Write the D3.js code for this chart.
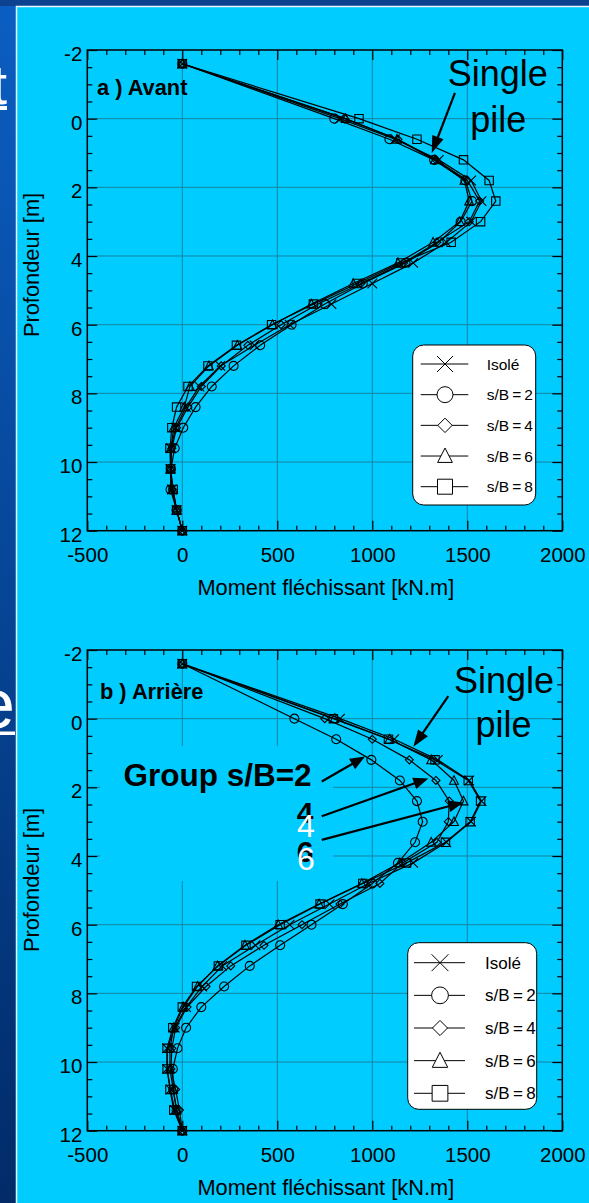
<!DOCTYPE html>
<html>
<head>
<meta charset="utf-8">
<script src="https://cdn.jsdelivr.net/npm/d3@7"></script>
<style>
  html, body { margin: 0; padding: 0; overflow: hidden; background: #0a4ea8; }
  text { font-family: "Liberation Sans", Arial, Helvetica, sans-serif; }
</style>
</head>
<body>
<svg id="fig" width="589" height="1203"></svg>
<script>
// Depth of each computed point along the pile [m]
const depths = [-1.6, 0, 0.6, 1.2, 1.8, 2.4, 3.0, 3.6, 4.2, 4.8, 5.4, 6.0, 6.6, 7.2, 7.8, 8.4, 9.0, 9.6, 10.2, 10.8, 11.4, 12.0];

// a) Avant – bending moment [kN.m]
const avantIsole = [0, 830, 1120, 1350, 1520, 1575, 1520, 1390, 1215, 1000, 785, 565, 380, 200, 90, 20, -35, -60, -62, -55, -30, 0];
const avantSB2   = [0, 800, 1090, 1325, 1490, 1525, 1465, 1350, 1175, 950, 750, 575, 410, 270, 155, 70, 5, -40, -60, -62, -30, 0];
const avantSB4   = [0, 855, 1135, 1335, 1500, 1565, 1510, 1340, 1165, 940, 715, 520, 345, 205, 100, 30, -30, -55, -62, -52, -30, 0];
const avantSB6   = [0, 860, 1130, 1330, 1485, 1510, 1460, 1320, 1135, 900, 680, 475, 290, 140, 40, 10, -45, -60, -62, -50, -30, 0];
const avantSB8   = [0, 930, 1235, 1480, 1615, 1650, 1570, 1415, 1150, 920, 690, 470, 285, 135, 30, -30, -55, -65, -62, -48, -30, 0];

// b) Arrière – bending moment [kN.m]
const arriereIsole = [0, 830, 1115, 1345, 1510, 1575, 1520, 1390, 1215, 980, 775, 565, 385, 210, 105, 20, -40, -80, -80, -62, -40, 0];
const arriereSB2   = [0, 590, 810, 995, 1145, 1235, 1265, 1225, 1135, 1000, 845, 680, 515, 355, 220, 100, 20, -25, -50, -48, -30, 0];
const arriereSB4   = [0, 750, 1000, 1195, 1335, 1405, 1400, 1340, 1160, 1040, 830, 630, 430, 255, 125, 25, -35, -55, -60, -35, -15, 0];
const arriereSB6   = [0, 800, 1090, 1310, 1430, 1480, 1430, 1310, 1145, 945, 720, 505, 330, 185, 80, 5, -45, -65, -65, -48, -30, 0];
const arriereSB8   = [0, 795, 1085, 1330, 1505, 1570, 1515, 1385, 1180, 950, 725, 515, 335, 190, 75, 0, -50, -80, -80, -65, -45, 0];

// Axis ticks
const xTicks = [-500, 0, 500, 1000, 1500, 2000];
const yTicks = [-2, 0, 2, 4, 6, 8, 10, 12];
const xMinor = d3.range(-500, 2001, 100).filter(v => v % 500 !== 0);
const yMinor = d3.range(-2, 12.01, 0.5).filter(v => Math.abs(v % 2) > 1e-9);

// Legend
const seriesNames  = ["Isolé", "s/B\u2009=\u20092", "s/B\u2009=\u20094", "s/B\u2009=\u20096", "s/B\u2009=\u20098"];
const seriesShapes = ["times", "circle", "diamond", "triangle", "square"];

const xTitle = "Moment fléchissant [kN.m]";
const yTitle = "Profondeur [m]";

const W = 589, H = 1203;
const svg = d3.select("#fig");

// ---- slide background ----
const defs = svg.append("defs");
const grad = defs.append("linearGradient").attr("id", "slideBg")
  .attr("x1", 0).attr("y1", 0).attr("x2", 0).attr("y2", 1);
grad.append("stop").attr("offset", "0%").attr("stop-color", "#0b5ec2");
grad.append("stop").attr("offset", "100%").attr("stop-color", "#022b68");
svg.append("rect").attr("width", W).attr("height", H).attr("fill", "url(#slideBg)");
svg.append("rect").attr("width", W).attr("height", 6).attr("fill", "#0c4290");

// slide title letters peeking out at the left edge
svg.append("text").attr("x", 7).attr("y", 104).attr("text-anchor", "end")
  .attr("font-size", 56).attr("fill", "#fff").text("t");
svg.append("rect").attr("x", 0).attr("y", 106).attr("width", 7).attr("height", 4).attr("fill", "#fff");
svg.append("text").attr("x", 15).attr("y", 728).attr("text-anchor", "end")
  .attr("font-size", 70).attr("fill", "#fff").text("e");
svg.append("rect").attr("x", 0).attr("y", 731.5).attr("width", 15).attr("height", 3.5).attr("fill", "#fff");

// cyan figure panel
svg.append("rect").attr("x", 16).attr("y", 6).attr("width", W - 16).attr("height", H - 6).attr("fill", "#00ccff");
svg.append("path").attr("d", `M16.5,${H}V6.5H${W}`).attr("fill", "none")
  .attr("stroke", "#e6f7ff").attr("stroke-width", 1.5);

// ---- marker shapes ----
function markerPath(shape, s) {
  switch (shape) {
    case "times":    return `M${-s},${-s}L${s},${s}M${-s},${s}L${s},${-s}`;
    case "circle":   return `M${s},0A${s},${s} 0 1 1 ${-s},0A${s},${s} 0 1 1 ${s},0Z`;
    case "diamond":  return `M0,${-s}L${s},0L0,${s}L${-s},0Z`;
    case "triangle": return `M0,${-s}L${s * 0.92},${s * 0.8}L${-s * 0.92},${s * 0.8}Z`;
    case "square":   return `M${-s},${-s}H${s}V${s}H${-s}Z`;
  }
}
const plotMarkerSize   = { times: 4.8, circle: 4.5, diamond: 4, triangle: 4.8, square: 4.2 };
const legendMarkerSize = { times: 8, circle: 8, diamond: 7.2, triangle: 8, square: 7.5 };

function arrow(g, x0, y0, x1, y1, headLen = 17, headW = 12) {
  const dx = x1 - x0, dy = y1 - y0, L = Math.hypot(dx, dy), ux = dx / L, uy = dy / L;
  const bx = x1 - ux * headLen, by = y1 - uy * headLen;
  g.append("line").attr("x1", x0).attr("y1", y0).attr("x2", bx + ux * 2).attr("y2", by + uy * 2)
    .attr("stroke", "#000").attr("stroke-width", 2.2);
  g.append("path")
    .attr("d", `M${x1},${y1}L${bx - uy * headW / 2},${by + ux * headW / 2}L${bx + uy * headW / 2},${by - ux * headW / 2}Z`)
    .attr("fill", "#000");
}

const fmtTick = d => String(d);

function drawPanel(cfg) {
  const x = d3.scaleLinear().domain([-500, 2000]).range([87.3, 562.3]);
  const y = d3.scaleLinear().domain([-2, 12]).range([cfg.top, cfg.top + 480.7]);
  const g = svg.append("g");
  const gridColor = "#1683a3";

  // gridlines
  g.append("g").selectAll("line").data(xTicks.slice(1, -1)).join("line")
    .attr("x1", d => x(d)).attr("x2", d => x(d)).attr("y1", y(-2)).attr("y2", y(12))
    .attr("stroke", gridColor).attr("stroke-width", 1);
  g.append("g").selectAll("line").data(yTicks.slice(1, -1)).join("line")
    .attr("x1", x(-500)).attr("x2", x(2000)).attr("y1", d => y(d)).attr("y2", d => y(d))
    .attr("stroke", gridColor).attr("stroke-width", 1);

  // text box that hides the grid behind the group labels
  if (cfg.cover) {
    const c = cfg.cover;
    g.append("rect").attr("x", x(c.m0)).attr("y", y(c.z0))
      .attr("width", x(c.m1) - x(c.m0)).attr("height", y(c.z1) - y(c.z0)).attr("fill", "#00ccff");
  }

  // axes (ticks point inward)
  const styleAxis = sel => {
    sel.select(".domain").remove();
    sel.selectAll(".tick line").attr("stroke", "#000").attr("stroke-width", 1.2);
    sel.selectAll("text").attr("font-size", 20.5).attr("fill", "#000")
      .style("font-family", '"Liberation Sans", Arial, sans-serif');
  };
  g.append("g").attr("transform", `translate(0,${y(12)})`)
    .call(d3.axisBottom(x).tickValues(xTicks).tickFormat(fmtTick).tickSizeInner(-10).tickSizeOuter(0).tickPadding(16.5))
    .call(styleAxis);
  g.append("g").attr("transform", `translate(0,${y(12)})`)
    .call(d3.axisBottom(x).tickValues(xMinor).tickFormat("").tickSizeInner(-5).tickSizeOuter(0)).call(styleAxis);
  g.append("g").attr("transform", `translate(0,${y(-2)})`)
    .call(d3.axisTop(x).tickValues(xTicks).tickFormat("").tickSizeInner(-10).tickSizeOuter(0)).call(styleAxis);
  g.append("g").attr("transform", `translate(0,${y(-2)})`)
    .call(d3.axisTop(x).tickValues(xMinor).tickFormat("").tickSizeInner(-5).tickSizeOuter(0)).call(styleAxis);
  const left = g.append("g").attr("transform", `translate(${x(-500)},0)`)
    .call(d3.axisLeft(y).tickValues(yTicks).tickFormat(fmtTick).tickSizeInner(-10).tickSizeOuter(0).tickPadding(5))
    .call(styleAxis);
  left.selectAll("text").attr("dy", "10.5");
  g.append("g").attr("transform", `translate(${x(-500)},0)`)
    .call(d3.axisLeft(y).tickValues(yMinor).tickFormat("").tickSizeInner(-5).tickSizeOuter(0)).call(styleAxis);
  g.append("g").attr("transform", `translate(${x(2000)},0)`)
    .call(d3.axisRight(y).tickValues(yTicks).tickFormat("").tickSizeInner(-10).tickSizeOuter(0)).call(styleAxis);
  g.append("g").attr("transform", `translate(${x(2000)},0)`)
    .call(d3.axisRight(y).tickValues(yMinor).tickFormat("").tickSizeInner(-5).tickSizeOuter(0)).call(styleAxis);

  // frame
  g.append("rect").attr("x", x(-500)).attr("y", y(-2))
    .attr("width", x(2000) - x(-500)).attr("height", y(12) - y(-2))
    .attr("fill", "none").attr("stroke", "#000").attr("stroke-width", 1.5);

  // axis titles
  g.append("text").attr("x", (x(-500) + x(2000)) / 2 + 1).attr("y", y(12) + 64)
    .attr("text-anchor", "middle").attr("font-size", 21.8).attr("fill", "#000").text(xTitle);
  g.append("text").attr("transform", `translate(39,${cfg.yTitleCenter}) rotate(-90)`)
    .attr("text-anchor", "middle").attr("font-size", 21.8).attr("fill", "#000").text(yTitle);

  // panel label
  g.append("text").attr("x", cfg.labelPos[0]).attr("y", cfg.labelPos[1])
    .attr("font-size", 21.8).attr("font-weight", "bold").attr("fill", "#000").text(cfg.label);

  // series: polyline + markers
  const line = d3.line().x(d => x(d.m)).y(d => y(d.z));
  cfg.series.forEach((vals, i) => {
    const pts = vals.map((m, k) => ({ m, z: depths[k] }));
    const shape = seriesShapes[i];
    g.append("path").datum(pts).attr("d", line)
      .attr("fill", "none").attr("stroke", "#000").attr("stroke-width", 1.2);
    g.append("g").selectAll("path").data(pts).join("path")
      .attr("transform", d => `translate(${x(d.m)},${y(d.z)})`)
      .attr("d", markerPath(shape, plotMarkerSize[shape]))
      .attr("fill", "none").attr("stroke", "#000").attr("stroke-width", 1.1);
  });

  // annotations
  const ann = g.append("g");
  cfg.texts.forEach(t => {
    ann.append("text").attr("x", x(t.m)).attr("y", y(t.z))
      .attr("text-anchor", t.anchor || "middle").attr("font-size", t.size)
      .attr("font-weight", t.bold ? "bold" : "normal").attr("fill", t.color || "#000").text(t.text);
  });
  cfg.arrows.forEach(a => arrow(ann, x(a[0]), y(a[1]), x(a[2]), y(a[3]), a[4] || 17, a[5] || 12));

  // legend
  const L = cfg.legend;
  const lg = g.append("g");
  lg.append("rect").attr("x", L.x0).attr("y", L.y0).attr("width", L.x1 - L.x0).attr("height", L.y1 - L.y0)
    .attr("rx", 11).attr("ry", 11).attr("fill", "#fff").attr("stroke", "#000").attr("stroke-width", 1);
  const rowY = d3.scalePoint().domain(seriesNames).range([L.r0, L.r1]);
  seriesNames.forEach((name, i) => {
    const yy = rowY(name);
    lg.append("line").attr("x1", L.lx0).attr("x2", L.lx1).attr("y1", yy).attr("y2", yy)
      .attr("stroke", "#000").attr("stroke-width", 1);
    lg.append("path").attr("transform", `translate(${L.mx},${yy})`)
      .attr("d", markerPath(seriesShapes[i], legendMarkerSize[seriesShapes[i]] * L.ms))
      .attr("fill", "#fff").attr("stroke", "#000").attr("stroke-width", 1);
    lg.append("text").attr("x", L.tx).attr("y", yy).attr("dy", "0.36em")
      .attr("font-size", L.fs).attr("fill", "#000").text(name);
  });
}

drawPanel({
  top: 50,
  label: "a ) Avant", labelPos: [97, 95], yTitleCenter: 265,
  series: [avantIsole, avantSB2, avantSB4, avantSB6, avantSB8],
  texts: [
    { text: "Single", m: 1660, z: -0.96, size: 36 },
    { text: "pile",   m: 1663, z: 0.38,  size: 36 }
  ],
  arrows: [[1435, -0.75, 1313, 1.0]],
  legend: { x0: 412.7, x1: 535.7, y0: 345, y1: 505, r0: 364, r1: 486.7,
            lx0: 420.7, lx1: 468.3, mx: 445, tx: 486.7, fs: 15.5, ms: 1 }
});

drawPanel({
  top: 650,
  label: "b ) Arrière", labelPos: [100, 699], yTitleCenter: 880,
  cover: { m0: -433, m1: 793, z0: 0.8, z1: 4.73 },
  series: [arriereIsole, arriereSB2, arriereSB4, arriereSB6, arriereSB8],
  texts: [
    { text: "Single", m: 1693, z: -0.75, size: 36 },
    { text: "pile",   m: 1690, z: 0.53,  size: 36 },
    { text: "Group s/B=2", m: -310, z: 1.96, size: 31.5, bold: true, anchor: "start" },
    { text: "4", m: 646, z: 3.04, size: 30, bold: true },
    { text: "4", m: 651, z: 3.44, size: 32, color: "#fff" },
    { text: "6", m: 646, z: 4.17, size: 30, bold: true },
    { text: "6", m: 651, z: 4.41, size: 32, color: "#fff" }
  ],
  arrows: [
    [1400, -0.66, 1216, 0.82],
    [734, 1.83, 962, 1.10, 15, 12],
    [734, 2.84, 1295, 1.74, 15, 12],
    [734, 3.53, 1479, 2.44, 15, 12]
  ],
  legend: { x0: 407.7, x1: 536.7, y0: 942.7, y1: 1109.3, r0: 962.7, r1: 1093.3,
            lx0: 414, lx1: 465, mx: 440, tx: 485, fs: 17, ms: 1.05 }
});
</script>
</body>
</html>
